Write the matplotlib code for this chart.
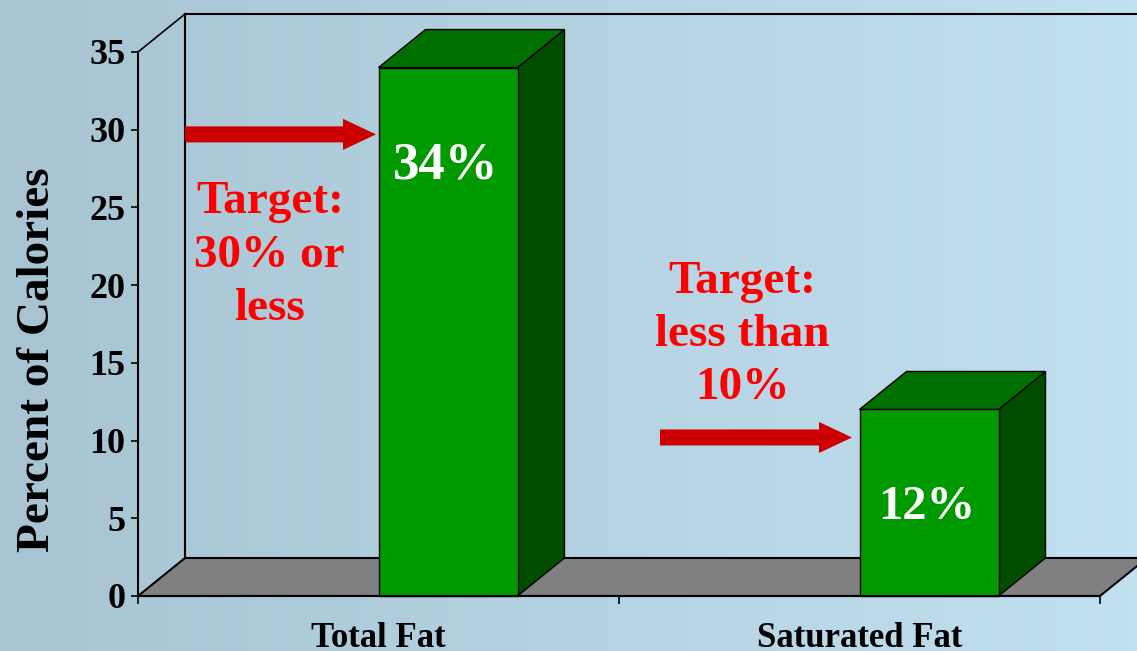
import numpy as np
import matplotlib
matplotlib.use("Agg")
import matplotlib.pyplot as plt
from matplotlib.patches import Polygon, Rectangle, FancyArrow

# data
categories = ["Total Fat", "Saturated Fat"]
values = [34, 12]
value_labels = ["34%", "12%"]
arrow_levels = [29.7, 10.2]
target_texts = ["Target:\n30% or\nless", "Target:\nless than\n10%"]
yticks = [0, 5, 10, 15, 20, 25, 30, 35]

plt.rcParams['font.family'] = ['Liberation Serif', 'DejaVu Serif']
plt.rcParams['font.weight'] = 'bold'

fig = plt.figure(figsize=(11.37, 6.51), dpi=100)

# gradient background
bg = fig.add_axes([0, 0, 1, 1], zorder=0)
left_col = np.array([168, 196, 211]) / 255
right_col = np.array([193, 224, 240]) / 255
t = np.linspace(0, 1, 256)[None, :, None]
grad = left_col * (1 - t) + right_col * t
bg.imshow(grad, aspect='auto', extent=[0, 1, 0, 1])
bg.axis('off')

ax = fig.add_axes([138 / 1137, 55 / 651, 962 / 1137, 544 / 651], zorder=1)
ax.patch.set_alpha(0)
ax.set_xlim(0, 2)
ax.set_ylim(0, 35)

# depth of the 3D effect in data units
dx = 47 / 481
dy = 38 / (544 / 35)
bar_w = 139 / 481

# floor
floor = Polygon([(0, 0), (2, 0), (2 + dx, dy), (dx, dy)], closed=True,
                facecolor="#808080", edgecolor="black", lw=1.5, zorder=1, clip_on=False)
ax.add_patch(floor)

# back wall lines
ax.plot([dx, dx], [dy, 35 + dy], color="black", lw=1.5, clip_on=False, zorder=1)
ax.plot([dx, 2 + dx], [35 + dy, 35 + dy], color="black", lw=1.5, clip_on=False, zorder=1)
ax.plot([0, dx], [35, 35 + dy], color="black", lw=1.2, clip_on=False, zorder=1)

# 3D bars
label_sizes = [38, 35]
for i, v in enumerate(values):
    c = i + 0.5
    front = Rectangle((c, 0), bar_w, v, facecolor="#009900", edgecolor="black",
                      lw=1.0, zorder=3, clip_on=False)
    top = Polygon([(c, v), (c + bar_w, v), (c + bar_w + dx, v + dy), (c + dx, v + dy)],
                  closed=True, facecolor="#007000", edgecolor="black", lw=1.0,
                  zorder=3, clip_on=False)
    side = Polygon([(c + bar_w, 0), (c + bar_w + dx, dy), (c + bar_w + dx, v + dy),
                    (c + bar_w, v)], closed=True, facecolor="#004d00",
                   edgecolor="black", lw=1.0, zorder=3, clip_on=False)
    ax.add_patch(side)
    ax.add_patch(top)
    ax.add_patch(front)
    ax.text(c + bar_w / 2 - 0.005, v - 6.3, value_labels[i], color="white",
            fontsize=label_sizes[i], fontweight="bold", ha="center", va="center",
            zorder=5)

# target arrows
arrow_starts = [185, 660]
arrow_ends = [376, 852]
for i, lv in enumerate(arrow_levels):
    x0 = (arrow_starts[i] - 138) / 481
    x1 = (arrow_ends[i] - 138) / 481
    arr = FancyArrow(x0, lv, x1 - x0, 0, width=1.03, head_width=2.0,
                     head_length=33 / 481, length_includes_head=True,
                     color="#cc0000", lw=0, zorder=4, clip_on=False)
    ax.add_patch(arr)

ax.text(0.274, 21.9, target_texts[0], color="#ff0000", fontsize=34,
        fontweight="bold", ha="center", va="center", linespacing=1.35, zorder=5)
ax.text(1.256, 16.8, target_texts[1], color="#ff0000", fontsize=34,
        fontweight="bold", ha="center", va="center", linespacing=1.35, zorder=5)

# axes styling
for s in ["top", "right"]:
    ax.spines[s].set_visible(False)
for s in ["left", "bottom"]:
    ax.spines[s].set_linewidth(1.5)
    ax.spines[s].set_zorder(6)

ax.set_yticks(yticks)
ax.set_yticklabels([str(y) for y in yticks], fontsize=26, fontweight="bold")
ax.tick_params(axis="y", length=5, width=1.2, pad=4)

ax.set_xticks([0, 1, 2])
ax.set_xticklabels([])
ax.set_xticks([0.5, 1.5], minor=True)
ax.set_xticklabels(categories, minor=True, fontsize=25, fontweight="bold")
ax.tick_params(axis="x", which="major", length=6, width=1.2)
ax.tick_params(axis="x", which="minor", length=0, pad=19)

ax.set_ylabel("Percent of Calories", fontsize=34, fontweight="bold")
ax.yaxis.set_label_coords(-0.082, 0.434)

fig.savefig("out.png", dpi=100)
